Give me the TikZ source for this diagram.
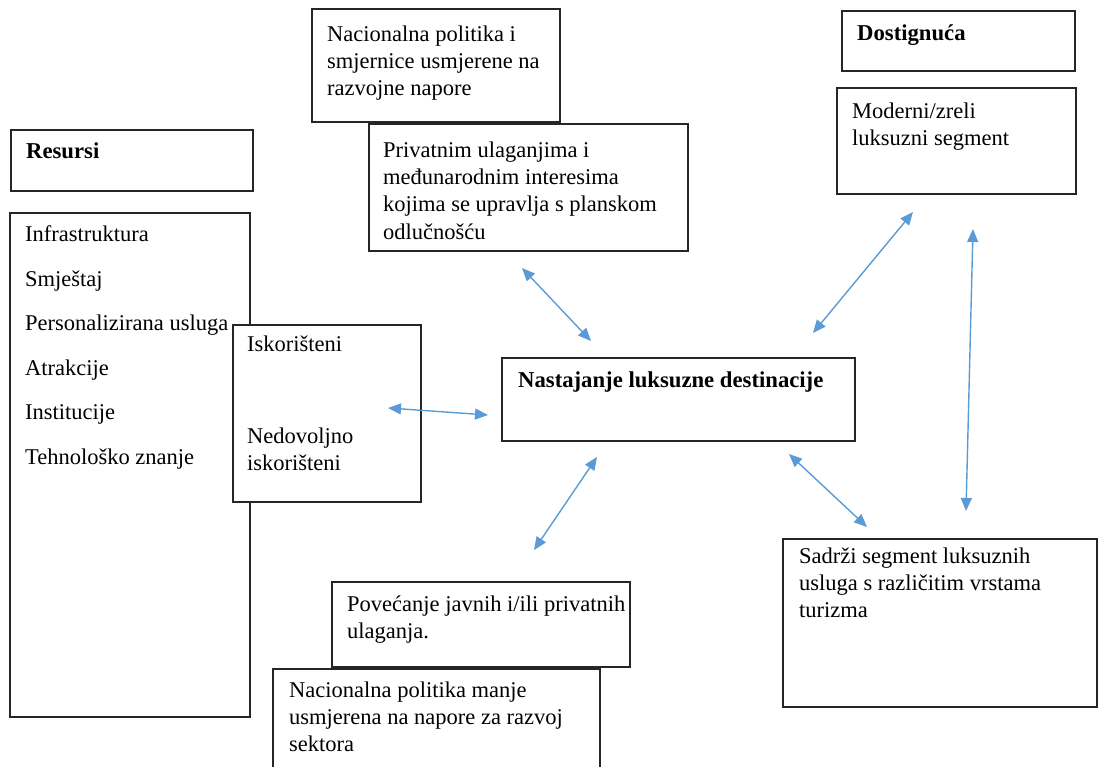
\documentclass[tikz,border=0pt]{standalone}
\usepackage{fontspec}
\setmainfont{Liberation Serif}
\usetikzlibrary{arrows.meta,fit}
\definecolor{linkblue}{RGB}{91,155,213}

\begin{document}
\begin{tikzpicture}[x=1pt,y=-1pt,
  box/.style={draw=black!85,line width=1.3pt,fill=white,inner sep=0pt},
  txt/.style={anchor=base west,align=left,inner sep=0pt,font=\fontsize{22.5}{27.3}\selectfont},
  txtm/.style={txt,anchor=north west},
  head/.style={txt,font=\fontsize{22.7}{27.3}\selectfont\bfseries},
  link/.style={draw=linkblue,line width=1.4pt,{Triangle[length=13pt,width=11pt]}-{Triangle[length=13pt,width=11pt]}}]
\useasboundingbox (0,0) rectangle (1098,767);
\clip (0,0) rectangle (1098,767);

\node[box,fit={(312,9) (560,122)}] (politika) {};
\node[txtm] (politika-t) at (327,25.5) {Nacionalna politika i\\smjernice usmjerene na\\razvojne napore};

\node[box,fit={(842,11) (1075,71)}] (dost) {};
\node[head] (dost-t) at (857,41) {Dostignuća};

\node[box,fit={(11,130) (253,191)}] (resursi) {};
\node[head] (resursi-t) at (26,159) {Resursi};

\node[box,fit={(837,88) (1076,194)}] (moderni) {};
\node[txtm] (moderni-t) at (852,102.5) {Moderni/zreli\\luksuzni segment};

\node[box,fit={(369,124) (688,251)}] (privatno) {};
\node[txtm] (privatno-t) at (383,141.5) {Privatnim ulaganjima i\\međunarodnim interesima\\kojima se upravlja s planskom\\odlučnošću};

\node[box,fit={(10,213) (250,717)}] (lista) {};
\node[txtm,font=\fontsize{22.5}{44.6}\selectfont] (lista-t) at (25,225.5) {Infrastruktura\\Smještaj\\Personalizirana usluga\\Atrakcije\\Institucije\\Tehnološko znanje};

\node[box,fit={(233,325) (421,502)}] (iskor) {};
\node[txt] (iskor-t) at (247,352) {Iskorišteni};
\node[txtm] (nedov-t) at (247,427.5) {Nedovoljno\\iskorišteni};

\node[box,fit={(502,358) (855,441)}] (nastaj) {};
\node[head] (nastaj-t) at (518,387) {Nastajanje luksuzne destinacije};

\node[box,fit={(783,539) (1097,707)}] (sadrzi) {};
\node[txtm] (sadrzi-t) at (799,547.5) {Sadrži segment luksuznih\\usluga s različitim vrstama\\turizma};

\node[box,fit={(332,582) (630,667)}] (povecanje) {};
\node[txtm] (povecanje-t) at (347,595.5) {Povećanje javnih i/ili privatnih\\ulaganja.};

\node[box,fit={(273,669) (600,790)}] (manje) {};
\node[txtm] (manje-t) at (289,681.5) {Nacionalna politika manje\\usmjerena na napore za razvoj\\sektora};

\coordinate (privatno-s) at (522,268);
\coordinate (nastaj-n1) at (591,341);
\coordinate (moderni-s) at (913,212);
\coordinate (nastaj-n2) at (813,333);
\coordinate (moderni-s2) at (973,229);
\coordinate (sadrzi-n1) at (966,511);
\coordinate (iskor-e) at (388,408);
\coordinate (nastaj-w) at (488,415);
\coordinate (nastaj-s1) at (597,457);
\coordinate (povecanje-n) at (534,550);
\coordinate (nastaj-s2) at (789,454);
\coordinate (sadrzi-n2) at (867,527);

\draw[link] (privatno-s) -- (nastaj-n1);
\draw[link] (moderni-s) -- (nastaj-n2);
\draw[link] (moderni-s2) -- (sadrzi-n1);
\draw[link] (iskor-e) -- (nastaj-w);
\draw[link] (nastaj-s1) -- (povecanje-n);
\draw[link] (nastaj-s2) -- (sadrzi-n2);
\end{tikzpicture}
\end{document}
